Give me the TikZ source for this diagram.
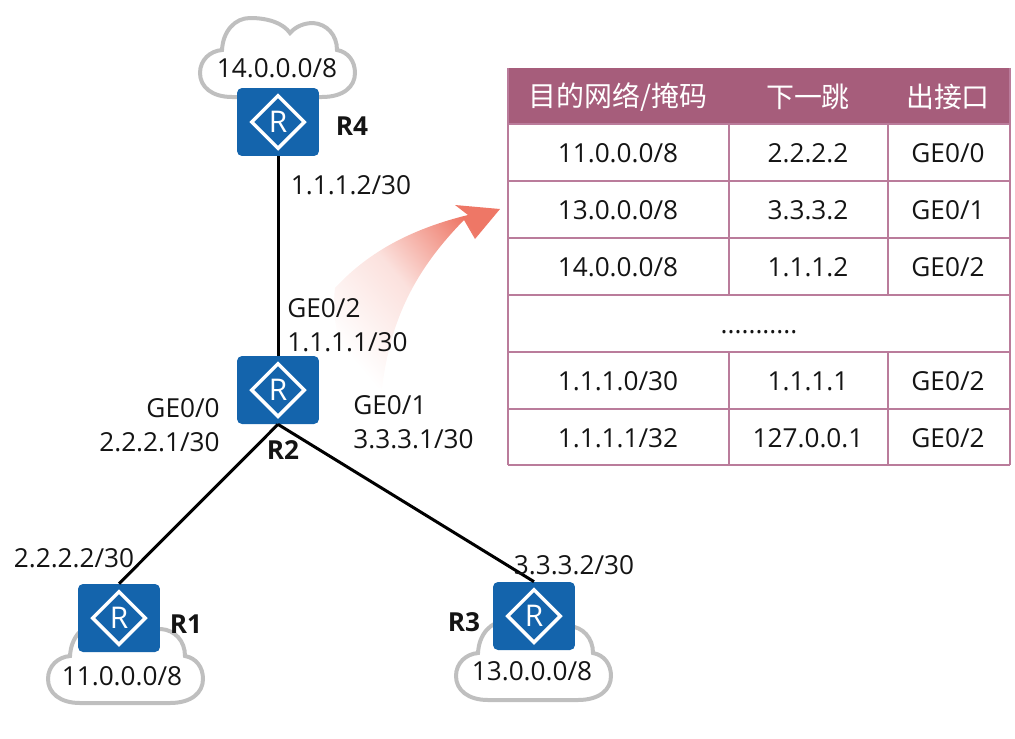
\documentclass[tikz,border=0pt]{standalone}
\usepackage{fontspec}
\setmainfont{Open Sans}
\newfontfamily\cjkfont{Noto Sans CJK SC}
\usetikzlibrary{shapes.geometric}
\definecolor{routerblue}{HTML}{1464AC}
\definecolor{headrose}{HTML}{A65D7B}
\definecolor{gridrose}{HTML}{BA7C9B}
\definecolor{cloudgray}{HTML}{BFBFBF}
\definecolor{arrowred}{HTML}{EE7766}
\tikzset{
  every node/.style={font=\fontsize{14.9}{19.3}\selectfont, text=black!92},
  router/.style={draw=none, fill=routerblue, rounded corners=0.1cm, minimum width=1.64cm, minimum height=1.36cm},
  routermark/.style={diamond, draw=white, line width=0.07cm, inner sep=0pt, minimum width=1.08cm, minimum height=1.08cm, text=white, font=\fontsize{17}{18}\selectfont},
  routername/.style={font=\fontsize{14.9}{19.3}\selectfont\bfseries},
  linkline/.style={line width=0.06cm, black},
  gridline/.style={line width=0.045cm, gridrose},
  headcell/.style={text=white, font=\fontsize{15.9}{19.3}\selectfont\cjkfont},
  netcloud/.pic={
    \draw [cloudgray, line width=0.08cm, fill=white]
      (-45,40) .. controls (-65,40) and (-77,30) .. (-77,16)
      .. controls (-77,3) and (-67,-6) .. (-55,-7)
      .. controls (-54,-26) and (-42,-39) .. (-27,-39)
      .. controls (-9,-39) and (6,-34) .. (13,-24)
      .. controls (19,-31) and (28,-34) .. (36,-34)
      .. controls (50,-33) and (60,-22) .. (60,-7)
      .. controls (71,-5) and (78,4) .. (78,16)
      .. controls (78,30) and (66,40) .. (45,40) -- cycle;
  }
}
\begin{document}
\begin{tikzpicture}[x=0.02cm, y=-0.02cm]
  \useasboundingbox (0,0) rectangle (1015,738);

  \shade [bottom color=white, top color=arrowred, middle color=arrowred!22!white, shading angle=-50]
    (382,389) .. controls (390,320) and (415,270) .. (464,220)
    -- (475,239) -- (500,209) -- (455,205) -- (468,215)
    .. controls (415,228) and (370,250) .. (335,288)
    .. controls (330,330) and (345,375) .. (382,389) -- cycle;

  \pic at (277,57) {netcloud};
  \pic at (125,663) {netcloud};
  \pic at (533,660) {netcloud};

  \node [router] (R4) at (278,122) {};
  \node [router] (R2) at (278,390) {};
  \node [router] (R1) at (119,618) {};
  \node [router] (R3) at (534,616) {};
  \node [routermark] at (R4) {R};
  \node [routermark] at (R2) {R};
  \node [routermark] at (R1) {R};
  \node [routermark] at (R3) {R};

  \draw [linkline] (R4) -- (R2);
  \draw [linkline] (R2.south) -- (R1.north);
  \draw [linkline] (R2.south) -- (R3.north);

  \node [routername] (nameR4) at (352,126) {R4};
  \node [routername] (nameR2) at (283,450) {R2};
  \node [routername] (nameR1) at (186,624) {R1};
  \node [routername] (nameR3) at (464,622) {R3};

  \node (netR4) at (277,68) {14.0.0.0/8};
  \node (netR1) at (122,676) {11.0.0.0/8};
  \node (netR3) at (532,671) {13.0.0.0/8};

  \node (ipA) at (351,185) {1.1.1.2/30};
  \node [anchor=west, align=left, inner sep=0pt] (ipB) at (287,325) {GE0/2\\1.1.1.1/30};
  \node [anchor=east, align=right, inner sep=0pt] (ipC) at (220,425) {GE0/0\\2.2.2.1/30};
  \node [anchor=west, align=left, inner sep=0pt] (ipD) at (353,422) {GE0/1\\3.3.3.1/30};
  \node (ipE) at (74,558) {2.2.2.2/30};
  \node (ipF) at (574,565) {3.3.3.2/30};

  \fill [headrose] (508,68) rectangle (1010,124);
  \foreach \y in {124,181,238,295,352,409,465}
    \draw [gridline] (508,\y) -- (1010,\y);
  \draw [gridline] (508,68) -- (508,465);
  \draw [gridline] (1010,68) -- (1010,465);
  \foreach \x in {729,888} {
    \draw [gridline] (\x,124) -- (\x,295);
    \draw [gridline] (\x,352) -- (\x,465);
  }

  \node [headcell] (headA) at (618,97) {目的网络/掩码};
  \node [headcell] (headB) at (808,97) {下一跳};
  \node [headcell] (headC) at (948,97) {出接口};

  \node at (618,153) {11.0.0.0/8};
  \node at (808,153) {2.2.2.2};
  \node at (948,153) {GE0/0};
  \node at (618,210) {13.0.0.0/8};
  \node at (808,210) {3.3.3.2};
  \node at (948,210) {GE0/1};
  \node at (618,267) {14.0.0.0/8};
  \node at (808,267) {1.1.1.2};
  \node at (948,267) {GE0/2};
  \node at (759,332) {...........};
  \node at (618,381) {1.1.1.0/30};
  \node at (808,381) {1.1.1.1};
  \node at (948,381) {GE0/2};
  \node at (618,438) {1.1.1.1/32};
  \node at (808,438) {127.0.0.1};
  \node at (948,438) {GE0/2};
\end{tikzpicture}
\end{document}
